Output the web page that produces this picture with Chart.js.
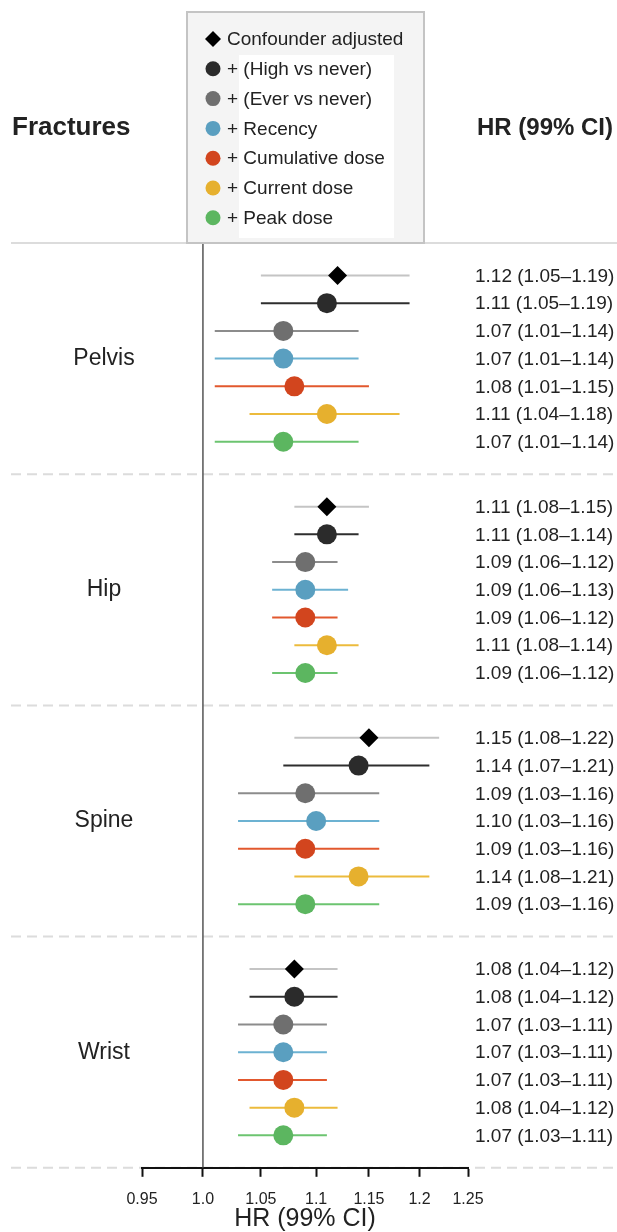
<!DOCTYPE html>
<html>
<head>
<meta charset="utf-8">
<script src="https://cdn.jsdelivr.net/npm/chart.js@4.4.1/dist/chart.umd.min.js"></script>
<style>
  html, body { margin: 0; background: #fff; }
  canvas { display: block; }
</style>
</head>
<body>
<canvas id="forest" width="617" height="1232"></canvas>
<script>
// fracture sites and adjustment models
const fractures = ['Pelvis', 'Hip', 'Spine', 'Wrist'];
const models = ['Confounder adjusted', '+ (High vs never)', '+ (Ever vs never)', '+ Recency',
                '+ Cumulative dose', '+ Current dose', '+ Peak dose'];

// hazard ratios and 99% CI, one value per model
const pelvisHR = [1.12, 1.11, 1.07, 1.07, 1.08, 1.11, 1.07];
const pelvisLo = [1.05, 1.05, 1.01, 1.01, 1.01, 1.04, 1.01];
const pelvisHi = [1.19, 1.19, 1.14, 1.14, 1.15, 1.18, 1.14];
const hipHR = [1.11, 1.11, 1.09, 1.09, 1.09, 1.11, 1.09];
const hipLo = [1.08, 1.08, 1.06, 1.06, 1.06, 1.08, 1.06];
const hipHi = [1.15, 1.14, 1.12, 1.13, 1.12, 1.14, 1.12];
const spineHR = [1.15, 1.14, 1.09, 1.10, 1.09, 1.14, 1.09];
const spineLo = [1.08, 1.07, 1.03, 1.03, 1.03, 1.08, 1.03];
const spineHi = [1.22, 1.21, 1.16, 1.16, 1.16, 1.21, 1.16];
const wristHR = [1.08, 1.08, 1.07, 1.07, 1.07, 1.08, 1.07];
const wristLo = [1.04, 1.04, 1.03, 1.03, 1.03, 1.04, 1.03];
const wristHi = [1.12, 1.12, 1.11, 1.11, 1.11, 1.12, 1.11];

const xTicks = [0.95, 1.0, 1.05, 1.1, 1.15, 1.2, 1.25];
const xTickLabels = ['0.95', '1.0', '1.05', '1.1', '1.15', '1.2', '1.25'];

// styling per model
const pointColors = ['#000000', '#2b2b2b', '#6f6f6f', '#5a9fc0', '#d2451e', '#e6b02e', '#5cb660'];
const lineColors = ['#c4c4c4', '#2e2e2e', '#8c8c8c', '#6cb2d2', '#e2582e', '#ecbb3c', '#6cc470'];

const HR = [pelvisHR, hipHR, spineHR, wristHR];
const LO = [pelvisLo, hipLo, spineLo, wristLo];
const HI = [pelvisHi, hipHi, spineHi, wristHi];

// vertical layout in row units
const GAP = 1.17;
const STEP = models.length - 1 + 2 * GAP;
const Y_MAX = fractures.length * STEP;
const rowY = (g, m) => g * STEP + GAP + m;

const FONT = 'Arial, "Liberation Sans", sans-serif';
Chart.defaults.font.family = FONT;
Chart.defaults.color = '#222';

const fmt = v => v.toFixed(2);

const datasets = models.map((name, m) => ({
  type: 'scatter',
  label: name,
  data: fractures.map((f, g) => ({ x: HR[g][m], y: rowY(g, m) })),
  pointStyle: m === 0 ? 'rectRot' : 'circle',
  pointRadius: m === 0 ? 9.5 : 10,
  backgroundColor: pointColors[m],
  borderWidth: 0,
  order: 1
}));

// null line at HR = 1
datasets.push({
  type: 'line',
  label: 'ref',
  data: [{ x: 1, y: 0 }, { x: 1, y: Y_MAX }],
  borderColor: '#555',
  borderWidth: 1.5,
  pointRadius: 0,
  order: 10
});

const forestDecor = {
  id: 'forestDecor',
  beforeDraw(chart) {
    const { ctx, scales: { y } } = chart;
    ctx.save();
    // top rule
    ctx.strokeStyle = '#dcdcdc';
    ctx.lineWidth = 2;
    ctx.beginPath();
    ctx.moveTo(11, y.getPixelForValue(0));
    ctx.lineTo(chart.width, y.getPixelForValue(0));
    ctx.stroke();
    // dashed separators between sites
    ctx.setLineDash([10, 6]);
    for (let g = 1; g <= fractures.length; g++) {
      const py = y.getPixelForValue(g * STEP);
      ctx.beginPath();
      ctx.moveTo(11, py);
      ctx.lineTo(chart.width, py);
      ctx.stroke();
    }
    ctx.restore();
  },
  beforeDatasetsDraw(chart) {
    const { ctx, scales: { x, y } } = chart;
    ctx.save();
    // confidence intervals
    ctx.lineWidth = 2;
    fractures.forEach((f, g) => {
      models.forEach((name, m) => {
        const py = y.getPixelForValue(rowY(g, m));
        ctx.strokeStyle = lineColors[m];
        ctx.beginPath();
        ctx.moveTo(x.getPixelForValue(LO[g][m]), py);
        ctx.lineTo(x.getPixelForValue(HI[g][m]), py);
        ctx.stroke();
      });
    });
    ctx.restore();
  },
  afterDatasetsDraw(chart) {
    const { ctx, scales: { y } } = chart;
    ctx.save();
    ctx.fillStyle = '#222';
    ctx.textBaseline = 'middle';
    // headers
    ctx.font = 'bold 26px ' + FONT;
    ctx.textAlign = 'left';
    ctx.fillText('Fractures', 12, 128);
    ctx.font = 'bold 24px ' + FONT;
    ctx.textAlign = 'right';
    ctx.fillText('HR (99% CI)', 613, 128);
    // site names and HR text
    fractures.forEach((f, g) => {
      ctx.font = '23px ' + FONT;
      ctx.textAlign = 'center';
      ctx.fillText(f, 104, y.getPixelForValue(rowY(g, 3)));
      ctx.font = '19px ' + FONT;
      ctx.textAlign = 'left';
      models.forEach((name, m) => {
        const txt = fmt(HR[g][m]) + ' (' + fmt(LO[g][m]) + '\u2013' + fmt(HI[g][m]) + ')';
        ctx.fillText(txt, 475, y.getPixelForValue(rowY(g, m)) + 1);
      });
    });
    // legend box
    ctx.fillStyle = '#f4f4f4';
    ctx.fillRect(187, 12, 237, 231);
    ctx.fillStyle = '#ffffff';
    ctx.fillRect(239, 55, 155, 183);
    ctx.strokeStyle = '#c4c4c4';
    ctx.lineWidth = 2;
    ctx.strokeRect(187, 12, 237, 231);
    ctx.font = '19px ' + FONT;
    ctx.textAlign = 'left';
    models.forEach((name, m) => {
      const cy = 39 + m * 29.8;
      ctx.fillStyle = pointColors[m];
      ctx.beginPath();
      if (m === 0) {
        ctx.moveTo(213, cy - 8); ctx.lineTo(221, cy); ctx.lineTo(213, cy + 8); ctx.lineTo(205, cy);
        ctx.closePath();
      } else {
        ctx.arc(213, cy, 7.5, 0, Math.PI * 2);
      }
      ctx.fill();
      ctx.fillStyle = '#222';
      ctx.fillText(name, 227, cy + 1);
    });
    ctx.restore();
  }
};

new Chart(document.getElementById('forest'), {
  data: { datasets },
  options: {
    responsive: false,
    animation: false,
    events: [],
    layout: { padding: { left: 142, right: 149, top: 243, bottom: 0 } },
    plugins: { legend: { display: false }, tooltip: { enabled: false } },
    scales: {
      x: {
        type: 'logarithmic',
        min: 0.95,
        max: 1.25,
        bounds: 'data',
        afterBuildTicks: scale => { scale.ticks = xTicks.map(v => ({ value: v })); },
        ticks: {
          font: { size: 16 },
          color: '#222',
          padding: 13,
          autoSkip: false,
          maxRotation: 0,
          callback: v => xTickLabels[xTicks.indexOf(v)]
        },
        grid: { drawOnChartArea: false, drawTicks: true, tickLength: 9, tickWidth: 2, tickColor: '#111' },
        border: { display: true, color: '#111', width: 2 },
        title: { display: true, text: 'HR (99% CI)', font: { size: 25, lineHeight: 1 }, color: '#222', padding: { top: -15, bottom: 0 } }
      },
      y: {
        type: 'linear',
        display: false,
        reverse: true,
        min: 0,
        max: Y_MAX
      }
    }
  },
  plugins: [forestDecor]
});
</script>
</body>
</html>
